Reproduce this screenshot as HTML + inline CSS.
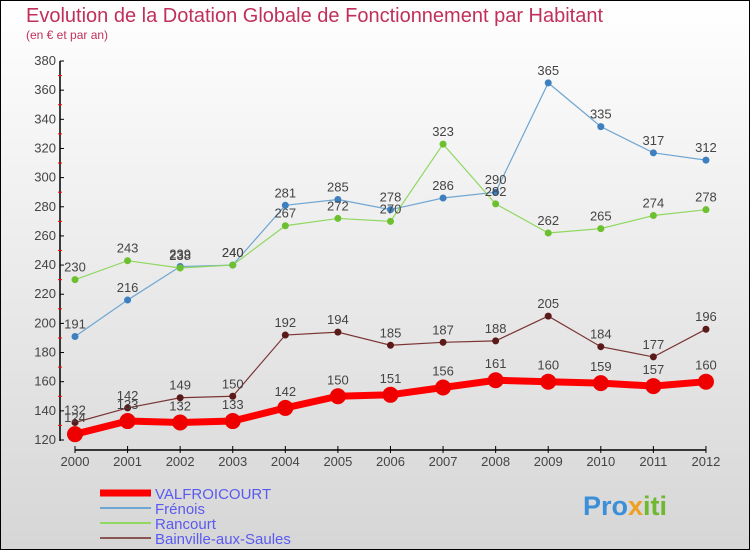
<!DOCTYPE html>
<html><head><meta charset="utf-8"><style>
body{margin:0;}
#c{width:750px;height:550px;position:relative;overflow:hidden;font-family:"Liberation Sans",sans-serif;}
</style></head><body>
<div id="c">
<svg id="s" width="750" height="550" xmlns="http://www.w3.org/2000/svg">
<defs><linearGradient id="bg" x1="0" y1="0" x2="0" y2="1"><stop offset="0" stop-color="#ffffff"/><stop offset="1" stop-color="#d6d6d6"/></linearGradient></defs>
<rect x="0.5" y="0.5" width="749" height="549" fill="url(#bg)" stroke="#000"/>
<text x="26" y="22" font-size="20" fill="#c0305a">Evolution de la Dotation Globale de Fonctionnement par Habitant</text>
<text x="26" y="39" font-size="12" fill="#c0305a">(en € et par an)</text>
<g id="axes"></g><g id="series"></g><g id="legend"></g>
<text x="583" y="515" font-size="27" font-weight="bold" fill="#3a8fd8">Pro<tspan fill="#f0a020">x</tspan><tspan fill="#70b830">iti</tspan></text>
</svg></div>
<script>
const years=["2000","2001","2002","2003","2004","2005","2006","2007","2008","2009","2010","2011","2012"];
const valfroicourt=[124,133,132,133,142,150,151,156,161,160,159,157,160];
const frenois=[191,216,239,240,281,285,278,286,290,365,335,317,312];
const rancourt=[230,243,238,240,267,272,270,323,282,262,265,274,278];
const bainville=[132,142,149,150,192,194,185,187,188,205,184,177,196];
const yTicks=[120,140,160,180,200,220,240,260,280,300,320,340,360,380];
const NS="http://www.w3.org/2000/svg";
const X=i=>75+i*52.58, Y=v=>440-(v-120)*379/260;
function mk(t,a,p){const e=document.createElementNS(NS,t);for(const k in a)e.setAttribute(k,a[k]);p.appendChild(e);return e;}
const ax=document.getElementById('axes');
let l=mk('line',{x1:60,y1:61,x2:60,y2:441,stroke:'#000','stroke-width':1.5},ax);


l=mk('line',{x1:75,y1:450,x2:706,y2:450,stroke:'#000','stroke-width':1.5},ax);


yTicks.forEach((v,i)=>{
  mk('line',{x1:60,y1:Y(v),x2:64,y2:Y(v),stroke:'#000'},ax);
  if(i<yTicks.length-1) mk('line',{x1:58,y1:Y(v+10),x2:62,y2:Y(v+10),stroke:'#f00'},ax);
  const t=mk('text',{x:56,y:Y(v)+4,'font-size':13,'text-anchor':'end',fill:'#444'},ax);t.textContent=v;
  
  
});
years.forEach((y,i)=>{
  mk('line',{x1:X(i),y1:446,x2:X(i),y2:453,stroke:'#000'},ax);
  const t=mk('text',{x:X(i),y:466,'font-size':13,'text-anchor':'middle',fill:'#444'},ax);t.textContent=y;
  
  
});
const sg=document.getElementById('series');
const defs=[
 {d:frenois,c:'#6fa6d2',dc:'#3d7fbf',w:1.2,r:3.5,n:'frenois'},
 {d:rancourt,c:'#90d860',dc:'#6cc030',w:1.2,r:3.5,n:'rancourt'},
 {d:bainville,c:'#7a3535',dc:'#5a1a1a',w:1.2,r:3.5,n:'bainville'},
 {d:valfroicourt,c:'#ff0000',dc:'#ee0000',w:7,r:8,n:'valfroicourt'}
];
defs.forEach(s=>{
  const p=mk('polyline',{points:s.d.map((v,i)=>X(i)+','+Y(v)).join(' '),fill:'none',stroke:s.c,'stroke-width':s.w},sg);
  
  
  s.d.forEach((v,i)=>{
    const c=mk('circle',{cx:X(i),cy:Y(v),r:s.r,fill:s.dc},sg);
    
    
    const t=mk('text',{x:X(i),y:Y(v)-(s.n==='valfroicourt'?12:8),'font-size':13,'text-anchor':'middle',fill:'#444'},sg);t.textContent=v;
    
    
  });
});
const lg=document.getElementById('legend');
[['VALFROICOURT','#ff0000',7],['Frénois','#6fa6d2',2],['Rancourt','#90d860',2],['Bainville-aux-Saules','#8a5555',2]].forEach((e,i)=>{
  const y=493+i*15;
  mk('line',{x1:100,y1:y,x2:151,y2:y,stroke:e[1],'stroke-width':e[2]},lg);
  const t=mk('text',{x:155,y:y+6,'font-size':15,fill:'#5a5af0'},lg);t.textContent=e[0];
  
  
});
</script>
</body></html>
